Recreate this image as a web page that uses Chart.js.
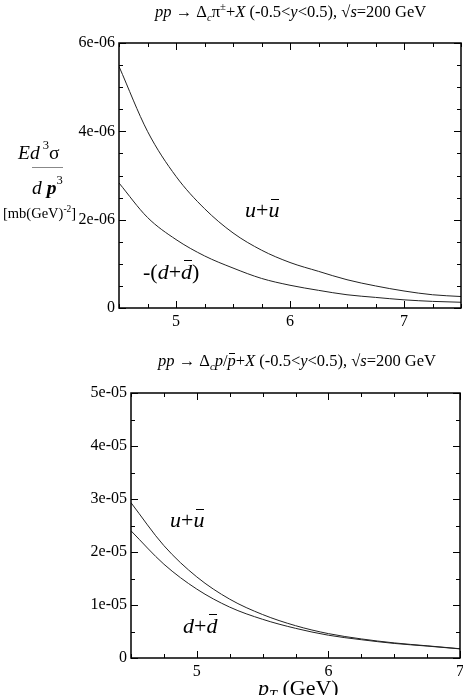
<!DOCTYPE html>
<html>
<head>
<meta charset="utf-8">
<script src="https://cdn.jsdelivr.net/npm/chart.js@4.4.1/dist/chart.umd.min.js"></script>
<style>
  body { margin: 0; background: #fff; }
  #page { position: relative; width: 463px; height: 695px; overflow: hidden;
          font-family: "Liberation Serif", "DejaVu Serif", serif; color: #000; }
  canvas { position: absolute; left: 0; }
  .t { position: absolute; white-space: nowrap; line-height: 1; }
  .ov { position: relative; }
  .ov::before { content: ''; position: absolute; left: 0.12em; right: 0.02em; top: 0.1em; border-top: 1px solid #000; }
  .ovd::before { top: 0.06em; }
  .sup { position: relative; font-size: 65%; }
  .sub { position: relative; font-size: 65%; }
</style>
</head>
<body>
<div id="page">
  <canvas id="chartTop" width="463" height="330" style="top:0"></canvas>
  <canvas id="chartBot" width="463" height="340" style="top:340px"></canvas>

  <!-- titulos -->
  <div class="t" style="left:155px;top:4px;font-size:16.5px">
    <i>pp</i> → Δ<span class="sub" style="top:4px"><i>c</i></span>π<span class="sup" style="top:-7px">±</span>+<i>X</i> (-0.5&lt;<i>y</i>&lt;0.5), √<i>s</i>=200 GeV
  </div>
  <div class="t" style="left:158px;top:353px;font-size:16.5px">
    <i>pp</i> → Δ<span class="sub" style="top:4px"><i>c</i></span><i>p</i>/<i class="ov">p</i>+<i>X</i> (-0.5&lt;<i>y</i>&lt;0.5), √<i>s</i>=200 GeV
  </div>

  <!-- eje y -->
  <div class="t" style="left:18px;top:143px;font-size:19.5px"><i>Ed</i><span class="sup" style="top:-10px;margin-left:3px">3</span>σ</div>
  <div style="position:absolute;left:32px;top:167px;width:31px;height:1px;background:#888"></div>
  <div class="t" style="left:32px;top:178px;font-size:19.5px"><i>d</i> <b><i>p</i></b><span class="sup" style="top:-10px">3</span></div>
  <div class="t" style="left:3px;top:206px;font-size:14.5px">[mb(GeV)<span class="sup" style="top:-6px">-2</span>]</div>

  <!-- etiquetas de curvas -->
  <div class="t" style="left:245px;top:199px;font-size:22px"><i>u</i>+<i class="ov">u</i></div>
  <div class="t" style="left:143px;top:261px;font-size:22px">-(<i>d</i>+<i class="ov ovd">d</i>)</div>
  <div class="t" style="left:170px;top:509px;font-size:22px"><i>u</i>+<i class="ov">u</i></div>
  <div class="t" style="left:183px;top:615px;font-size:22px"><i>d</i>+<i class="ov ovd">d</i></div>

  <!-- eje x -->
  <div class="t" style="left:258px;top:677px;font-size:22px"><i>p</i><span class="sub" style="top:5px"><i>T</i></span> (GeV)</div>
</div>

<script>
// valores
const ptTop   = [4.5, 4.75, 5, 5.25, 5.5, 5.75, 6, 6.25, 6.5, 6.75, 7, 7.25, 7.5];
const uTop    = [5.47e-6, 4.0e-6, 2.98e-6, 2.25e-6, 1.70e-6, 1.31e-6, 1.03e-6, 0.83e-6, 0.64e-6, 0.50e-6, 0.385e-6, 0.30e-6, 0.26e-6];
const dTop    = [2.83e-6, 2.05e-6, 1.55e-6, 1.18e-6, 0.905e-6, 0.67e-6, 0.515e-6, 0.40e-6, 0.30e-6, 0.24e-6, 0.185e-6, 0.15e-6, 0.13e-6];

const ptBot   = [4.5, 4.75, 5, 5.25, 5.5, 5.75, 6, 6.25, 6.5, 6.75, 7];
const uBot    = [2.93e-5, 2.12e-5, 1.53e-5, 1.11e-5, 0.82e-5, 0.61e-5, 0.46e-5, 0.36e-5, 0.285e-5, 0.23e-5, 0.175e-5];
const dBot    = [2.40e-5, 1.77e-5, 1.30e-5, 0.96e-5, 0.73e-5, 0.56e-5, 0.43e-5, 0.345e-5, 0.275e-5, 0.225e-5, 0.172e-5];

const xMajor      = [5, 6, 7];
const xLabels     = ['5', '6', '7'];
const yMajorTop   = [0, 2e-6, 4e-6, 6e-6];
const yLabelsTop  = ['0', '2e-06', '4e-06', '6e-06'];
const yMajorBot   = [0, 1e-5, 2e-5, 3e-5, 4e-5, 5e-5];
const yLabelsBot  = ['0', '1e-05', '2e-05', '3e-05', '4e-05', '5e-05'];

const FONT = { family: 'Liberation Serif', size: 16 };

function labelFor(majors, labels, step) {
  return v => {
    const i = majors.findIndex(m => Math.abs(m - v) < step * 1e-3);
    return i >= 0 ? labels[i] : '';
  };
}

// marco y ticks hacia dentro en los cuatro lados
const frameTicks = {
  id: 'frameTicks',
  afterDraw(chart) {
    const { ctx, chartArea: a, scales: { x, y } } = chart;
    ctx.save();
    ctx.strokeStyle = '#000';
    ctx.lineWidth = 1;
    ctx.beginPath();
    x.ticks.forEach(t => {
      const px = Math.round(x.getPixelForValue(t.value)) + 0.5;
      const len = t.label ? 7 : 4;
      ctx.moveTo(px, a.bottom); ctx.lineTo(px, a.bottom - len);
      ctx.moveTo(px, a.top);    ctx.lineTo(px, a.top + len);
    });
    y.ticks.forEach(t => {
      const py = Math.round(y.getPixelForValue(t.value)) + 0.5;
      const len = t.label ? 7 : 4;
      ctx.moveTo(a.left, py);  ctx.lineTo(a.left + len, py);
      ctx.moveTo(a.right, py); ctx.lineTo(a.right - len, py);
    });
    ctx.stroke();
    ctx.lineWidth = 1.5;
    ctx.strokeRect(a.left, a.top, a.right - a.left, a.bottom - a.top);
    ctx.restore();
  }
};

function drawPanel(id, cfg) {
  return new Chart(document.getElementById(id), {
    type: 'line',
    data: {
      datasets: cfg.series.map(s => ({
        data: cfg.pt.map((p, i) => ({ x: p, y: s[i] })),
        borderColor: '#222',
        borderWidth: 1,
        pointRadius: 0,
        cubicInterpolationMode: 'monotone',
        fill: false,
      })),
    },
    options: {
      responsive: false,
      animation: false,
      layout: { padding: { top: cfg.padTop, right: cfg.padRight, left: 0, bottom: 0 } },
      plugins: { legend: { display: false }, tooltip: { enabled: false } },
      scales: {
        x: {
          type: 'linear', min: cfg.xMin, max: cfg.xMax,
          grid: { display: false, drawTicks: false }, border: { display: false },
          ticks: { stepSize: 0.25, autoSkip: false, maxRotation: 0, padding: 4, color: '#000', font: FONT,
                   callback: labelFor(xMajor, xLabels, 0.25) },
          afterFit: s => { s.height = cfg.xHeight; s.paddingLeft = 0; s.paddingRight = 0; },
        },
        y: {
          type: 'linear', min: 0, max: cfg.yMax,
          grid: { display: false, drawTicks: false }, border: { display: false },
          ticks: { stepSize: cfg.yStep, autoSkip: false, padding: 4, color: '#000', font: FONT,
                   callback: labelFor(cfg.yMajor, cfg.yLabels, cfg.yStep) },
          afterFit: s => { s.width = cfg.yWidth; s.paddingTop = 0; s.paddingBottom = 0; },
        },
      },
    },
    plugins: [frameTicks],
  });
}

drawPanel('chartTop', {
  pt: ptTop, series: [uTop, dTop],
  xMin: 4.5, xMax: 7.5, yMax: 6e-6, yStep: 5e-7,
  yMajor: yMajorTop, yLabels: yLabelsTop,
  padTop: 43, padRight: 2, xHeight: 22, yWidth: 119,
});

drawPanel('chartBot', {
  pt: ptBot, series: [uBot, dBot],
  xMin: 4.5, xMax: 7, yMax: 5e-5, yStep: 5e-6,
  yMajor: yMajorBot, yLabels: yLabelsBot,
  padTop: 53, padRight: 3, xHeight: 22, yWidth: 131,
});
</script>
</body>
</html>
